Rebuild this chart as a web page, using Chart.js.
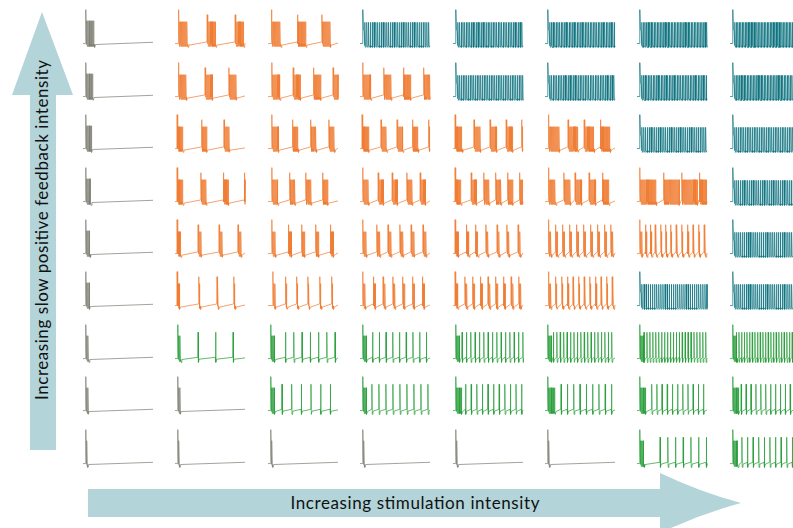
<!DOCTYPE html>
<html>
<head>
<meta charset="utf-8">
<script src="https://cdn.jsdelivr.net/npm/chart.js@4.4.1/dist/chart.umd.min.js"></script>
<style>
  html, body { margin: 0; padding: 0; background: #ffffff; }
  #stage { position: relative; width: 793px; height: 528px; overflow: hidden; }
  #stage canvas { position: absolute; }
  #arrows { position: absolute; left: 0; top: 0; }
</style>
</head>
<body>
<div id="stage">
  <svg id="arrows" width="793" height="528" xmlns="http://www.w3.org/2000/svg">
    <path d="M42,12 L12,95 L30,95 L30,450 L56,450 L56,95 L73,95 Z" fill="#b3d4d9"/>
    <path d="M88,489 L660,489 L660,473 Q700,492 741,503 Q700,514 660,533 L660,517 L88,517 Z" fill="#b3d4d9"/>
    <text transform="translate(48,230) rotate(-90)" text-anchor="middle"
          font-family="Lato, 'Open Sans', sans-serif" font-size="17" fill="#111"
          textLength="340">Increasing slow positive feedback intensity</text>
    <text x="415" y="509" text-anchor="middle"
          font-family="Lato, 'Open Sans', sans-serif" font-size="17" fill="#111"
          textLength="249">Increasing stimulation intensity</text>
  </svg>
</div>
<script>
// Grid of membrane-potential traces.
// Rows: slow positive feedback, strongest at the top.
// Columns: stimulation intensity, weakest on the left.
// Time runs 0..1 over each trace; voltages in mV.

// Firing regime per cell: Q = quiescent after the onset transient,
// B = bursting, F = fast tonic firing, S = tonic spiking
const regimeRows = [
  "QBBFFFFF",
  "QBBBFFFF",
  "QBBBBBFF",
  "QBBBBBBF",
  "QBBBBBBF",
  "QBBBBBFF",
  "QSSSSSSS",
  "QQSSSSSS",
  "QQQQQQSS"
];

// Burst onset times (B cells)
const burstOnsets = [
  [null, [0.05, 0.46, 0.86], [0.05, 0.42, 0.77], null, null, null, null, null],
  [null, [0.05, 0.43, 0.77], [0.055, 0.36, 0.65, 0.93], [0.04, 0.34, 0.62, 0.91], null, null, null, null],
  [null, [0.03, 0.38, 0.70], [0.055, 0.35, 0.61, 0.87], [0.03, 0.30, 0.53, 0.75, 0.98], [0.03, 0.30, 0.53, 0.76, 0.98], [0.05, 0.33, 0.56, 0.79], null, null],
  [null, [0.03, 0.37, 0.69, 0.99], [0.055, 0.31, 0.54, 0.78], [0.04, 0.26, 0.46, 0.67, 0.86], [0.03, 0.26, 0.44, 0.61, 0.78, 0.95], [0.05, 0.27, 0.43, 0.63, 0.82], [0.04, 0.38, 0.64, 0.89], null],
  [null, [0.03, 0.33, 0.63, 0.90], [0.055, 0.29, 0.48, 0.68, 0.89], [0.04, 0.24, 0.40, 0.57, 0.73, 0.90], [0.03, 0.19, 0.32, 0.47, 0.63, 0.77, 0.93], [0.05, 0.15, 0.25, 0.35, 0.45, 0.55, 0.65, 0.75, 0.85, 0.94], [0.04, 0.12, 0.19, 0.26, 0.34, 0.41, 0.48, 0.56, 0.64, 0.72, 0.80, 0.88, 0.96], null],
  [null, [0.03, 0.34, 0.60, 0.84], [0.07, 0.25, 0.41, 0.57, 0.74, 0.91], [0.04, 0.19, 0.33, 0.47, 0.61, 0.75, 0.89], [0.03, 0.17, 0.28, 0.39, 0.50, 0.61, 0.72, 0.83, 0.94], [0.05, 0.15, 0.24, 0.32, 0.40, 0.48, 0.56, 0.64, 0.72, 0.80, 0.88, 0.96], null, null],
  [null, null, null, null, null, null, null, null],
  [null, null, null, null, null, null, null, null],
  [null, null, null, null, null, null, null, null]
];

// Burst duration (B cells)
const burstWidth = [
  [null, 0.12, 0.12, null, null, null, null, null],
  [null, 0.10, 0.10, 0.10, null, null, null, null],
  [null, 0.07, 0.08, 0.08, 0.09, 0.14, null, null],
  [null, 0.07, 0.07, 0.07, 0.07, 0.09, 0.22, null],
  [null, 0.04, 0.04, 0.04, 0.035, 0.03, 0.02, null],
  [null, 0.02, 0.02, 0.025, 0.025, 0.02, null, null],
  [null, null, null, null, null, null, null, null],
  [null, null, null, null, null, null, null, null],
  [null, null, null, null, null, null, null, null]
];

// Interspike interval of fast tonic firing (F cells)
const fastInterval = [
  [null, null, null, 0.026, 0.024, 0.023, 0.022, 0.021],
  [null, null, null, null, 0.025, 0.024, 0.023, 0.022],
  [null, null, null, null, null, null, 0.026, 0.025],
  [null, null, null, null, null, null, null, 0.026],
  [null, null, null, null, null, null, null, 0.027],
  [null, null, null, null, null, null, 0.030, 0.027],
  [null, null, null, null, null, null, null, null],
  [null, null, null, null, null, null, null, null],
  [null, null, null, null, null, null, null, null]
];

// End of the onset spike cluster (Q and S cells)
const transientEnd = [
  [0.16, null, null, null, null, null, null, null],
  [0.14, null, null, null, null, null, null, null],
  [0.12, null, null, null, null, null, null, null],
  [0.11, null, null, null, null, null, null, null],
  [0.10, null, null, null, null, null, null, null],
  [0.09, null, null, null, null, null, null, null],
  [0.08, 0.08, 0.09, 0.09, 0.09, 0.09, 0.09, 0.10],
  [0.07, 0.07, 0.09, 0.09, 0.12, 0.14, 0.12, 0.12],
  [0.065, 0.065, 0.065, 0.065, 0.065, 0.065, 0.10, 0.11]
];

// First regular spike and interspike interval (S cells)
const spikeStart = [
  [], [], [], [], [], [],
  [null, 0.33, 0.25, 0.18, 0.13, 0.12, 0.10, 0.09],
  [null, null, 0.20, 0.17, 0.18, 0.23, 0.21, 0.16],
  [null, null, null, null, null, null, 0.33, 0.17]
];
const spikeInterval = [
  [], [], [], [], [], [],
  [null, 0.25, 0.118, 0.096, 0.062, 0.049, 0.042, 0.038],
  [null, null, 0.138, 0.10, 0.08, 0.09, 0.074, 0.07],
  [null, null, null, null, null, null, 0.11, 0.08]
];

const regimeColor = {
  Q: "rgba(128,128,116,0.72)",
  B: "rgba(240,122,48,0.7)",
  F: "rgba(10,112,126,0.7)",
  S: "rgba(40,158,58,0.72)"
};

const ONSET = 0.04;
const V_REST = -67, V_LOW = -79, V_TOP = 42, V_MIN = -81;

// Narrow spikes: fast upstroke, slightly slower repolarisation, then a low plateau
function spikeTrain(pts, t0, t1, period, peak, trough, base) {
  for (let t = t0; t < t1 - 1e-9; t += period) {
    pts.push({ x: t, y: base });
    pts.push({ x: Math.min(t + 0.002, 1), y: peak });
    pts.push({ x: Math.min(t + 0.009, 1), y: trough });
  }
  pts.push({ x: Math.min(t1, 1), y: base });
}

function buildTrace(r, c) {
  const kind = regimeRows[r][c];
  const pts = [];
  const onset = kind === "B" ? burstOnsets[r][c][0] : ONSET;
  pts.push({ x: 0, y: V_REST }, { x: onset - 0.004, y: V_REST }, { x: onset, y: 40 });

  if (kind === "Q" || kind === "S") {
    const end = transientEnd[r][c];
    pts.push({ x: onset + 0.006, y: -40 });
    spikeTrain(pts, onset + 0.012, end, 0.016, 5, -76, -70);
    pts.push({ x: end + 0.006, y: V_LOW }, { x: end + 0.018, y: -70 });
    if (kind === "Q") {
      pts.push({ x: 1, y: -63 });
    } else {
      const isi = spikeInterval[r][c];
      for (let t = spikeStart[r][c]; t < 1; t += isi) {
        pts.push({ x: t - 0.004, y: -63 }, { x: t, y: 16 },
                 { x: t + 0.005, y: V_LOW }, { x: t + 0.015, y: -69 });
      }
      pts.push({ x: 1, y: -65 });
    }
  } else if (kind === "B") {
    const ons = burstOnsets[r][c], w = burstWidth[r][c];
    ons.forEach((t, i) => {
      if (i > 0) pts.push({ x: t - 0.004, y: -62 }, { x: t, y: 24 });
      pts.push({ x: t + 0.005, y: -40 });
      const s = i === 0 ? t + 0.012 : t + 0.008;
      const e = Math.min(1, (i === 0 ? t + 0.012 : t) + w);
      spikeTrain(pts, s, e, 0.015, 2, -76, -68);
      if (e < 1) {
        pts.push({ x: e + 0.006, y: V_LOW }, { x: e + 0.016, y: -72 });
        if (i === ons.length - 1) pts.push({ x: 1, y: -65 });
      }
    });
  } else {
    pts.push({ x: onset + 0.009, y: -22 }, { x: onset + 0.02, y: -28 });
    spikeTrain(pts, onset + 0.028, 1, fastInterval[r][c], 0, V_LOW, -74);
  }
  return pts;
}

const stage = document.getElementById("stage");
const PAD = 3;
const CELL_W = 70, CELL_H = 39;
const COL_X0 = 83, COL_STEP = 92.4;
const ROW_Y0 = 9.3, ROW_STEP = 52.4;

for (let r = 0; r < regimeRows.length; r++) {
  for (let c = 0; c < regimeRows[r].length; c++) {
    const cv = document.createElement("canvas");
    cv.width = CELL_W + 2 * PAD;
    cv.height = CELL_H + 2 * PAD;
    cv.style.left = Math.round(COL_X0 + c * COL_STEP - PAD) + "px";
    cv.style.top = Math.round(ROW_Y0 + r * ROW_STEP - PAD) + "px";
    stage.appendChild(cv);
    new Chart(cv, {
      type: "scatter",
      data: {
        datasets: [{
          data: buildTrace(r, c),
          showLine: true,
          borderColor: regimeColor[regimeRows[r][c]],
          borderWidth: 1,
          pointRadius: 0,
          tension: 0,
          clip: false
        }]
      },
      options: {
        responsive: false,
        animation: false,
        events: [],
        devicePixelRatio: 1,
        layout: { padding: PAD },
        plugins: { legend: { display: false }, tooltip: { enabled: false } },
        scales: {
          x: { type: "linear", display: false, min: 0, max: 1 },
          y: { type: "linear", display: false, min: V_MIN, max: V_TOP }
        }
      }
    });
  }
}
</script>
</body>
</html>
